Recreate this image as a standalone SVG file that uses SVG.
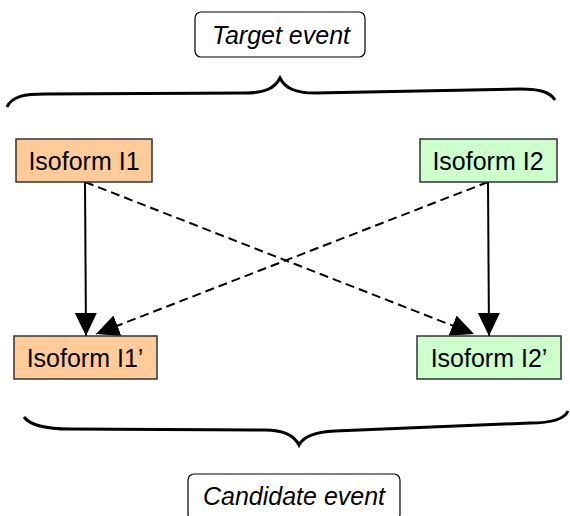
<svg xmlns="http://www.w3.org/2000/svg" width="570" height="516" viewBox="0 0 570 516">
<style>
.node{stroke:#333;stroke-width:1.5}
.i1{fill:#FFCC99}
.i2{fill:#CCFFCC}
.lbl{font-family:"Liberation Sans",Arial,sans-serif;font-size:25px;fill:#000;text-anchor:middle}
.ev{font-family:"Liberation Sans",Arial,sans-serif;font-size:25px;font-style:italic;fill:#000;text-anchor:middle}
.evbox{fill:#fff;stroke:#000;stroke-width:1.2}
.brace{fill:none;stroke:#000;stroke-width:3}
.edge{fill:none;stroke:#000;stroke-width:2}
.dash{stroke-dasharray:9,5}
</style>
<defs>
<marker id="ah" markerUnits="userSpaceOnUse" markerWidth="24" markerHeight="24" viewBox="0 0 24 24" refX="23" refY="12" orient="auto">
<path d="M0,1 L23,12 L0,23 Z" fill="#000"/>
</marker>
</defs>
<rect width="570" height="516" fill="#fff"/>
<g id="target-event">
<rect class="evbox" x="195" y="12" width="170" height="45" rx="6"/>
<text class="ev" x="281" y="44">Target event</text>
</g>
<g id="brace-top"><path class="brace" d="M7,107 C12,96 25,94 45,94 L245,93 C265,93 275,88 280,78 C285,88 295,93 315,93 L520,89 C540,89 550,92 555,100"/></g>
<g id="brace-bottom"><path class="brace" d="M24,417 C30,425 45,429 70,429 L265,430 C285,430 295,437 299,445 C303,437 315,432 335,431 L530,423 C555,423 565,418 568,411"/></g>
<g id="connectors">
<line class="edge" x1="85" y1="182" x2="86" y2="336" marker-end="url(#ah)"/>
<line class="edge" x1="488" y1="182" x2="489" y2="336" marker-end="url(#ah)"/>
<line class="edge dash" x1="85" y1="182" x2="474" y2="334" marker-end="url(#ah)"/>
<line class="edge dash" x1="488" y1="182" x2="96" y2="334" marker-end="url(#ah)"/>
</g>
<g id="isoform-i1">
<rect class="node i1" x="16" y="139" width="136" height="43"/>
<text class="lbl" x="84" y="170">Isoform I1</text>
</g>
<g id="isoform-i2">
<rect class="node i2" x="420" y="139" width="137" height="43"/>
<text class="lbl" x="488" y="170">Isoform I2</text>
</g>
<g id="isoform-i1p">
<rect class="node i1" x="14" y="336" width="143" height="43"/>
<text class="lbl" x="85" y="367">Isoform I1’</text>
</g>
<g id="isoform-i2p">
<rect class="node i2" x="417" y="336" width="144" height="43"/>
<text class="lbl" x="489" y="367">Isoform I2’</text>
</g>
<g id="candidate-event">
<rect class="evbox" x="188" y="474" width="212" height="46" rx="6"/>
<text class="ev" x="294" y="505">Candidate event</text>
</g>
</svg>
